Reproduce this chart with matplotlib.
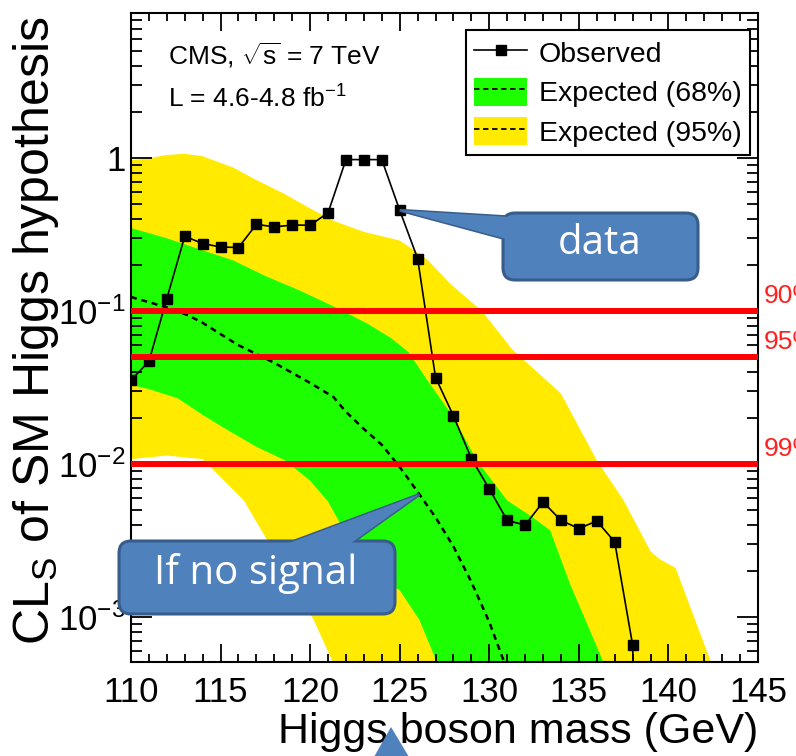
import numpy as np
import matplotlib
matplotlib.use("Agg")
import matplotlib.pyplot as plt
from matplotlib.lines import Line2D
from matplotlib.patches import Patch, FancyBboxPatch, Polygon
from matplotlib.ticker import MultipleLocator, LogLocator, FuncFormatter, NullFormatter

plt.rcParams['font.family'] = ['Liberation Sans', 'DejaVu Sans']
plt.rcParams['mathtext.fontset'] = 'custom'
plt.rcParams['mathtext.rm'] = 'Liberation Sans'
plt.rcParams['mathtext.it'] = 'Liberation Sans:italic'
plt.rcParams['mathtext.default'] = 'regular'

# observed CLs
mass_obs = [110, 111, 112, 113, 114, 115, 116, 117, 118, 119, 120, 121, 122, 123, 124,
            125, 126, 127, 128, 129, 130, 131, 132, 133, 134, 135, 136, 137, 138, 138.5]
cls_obs = [0.0354, 0.047, 0.121, 0.309, 0.277, 0.263, 0.261, 0.37, 0.356, 0.366, 0.365, 0.44,
           0.98, 0.98, 0.98, 0.457, 0.221, 0.0369, 0.0207, 0.0109, 0.0069, 0.0043, 0.0040,
           0.00567, 0.0043, 0.0038, 0.00426, 0.00311, 0.00066, 0.00001]

# expected median (no signal)
mass_exp = [110, 112, 113.2, 114, 115.7, 116, 118, 120, 121.3, 122, 123, 124, 125, 126,
            127, 128, 129, 130, 131]
cls_exp = [0.124, 0.106, 0.094, 0.084, 0.063, 0.06, 0.046, 0.034, 0.0275, 0.022, 0.017,
           0.0134, 0.0096, 0.0066, 0.0045, 0.0029, 0.0017, 0.00093, 0.00045]

# 68% band
mass_g_hi = [110, 112, 114, 115.7, 117.5, 119.4, 121.5, 123.2, 124.5, 125.5, 126.5, 128,
             129.3, 131, 132.3, 133.4, 134.5, 136.4]
cls_g_hi = [0.35, 0.30, 0.25, 0.215, 0.17, 0.137, 0.105, 0.083, 0.067, 0.054, 0.036,
            0.0203, 0.0106, 0.0058, 0.0046, 0.0037, 0.00166, 0.0005]
mass_g_lo = [110, 111, 112.6, 114, 115.4, 117, 118.6, 120, 121, 122, 123.4, 125, 126.1, 127.1]
cls_g_lo = [0.033, 0.031, 0.027, 0.021, 0.0167, 0.013, 0.0106, 0.0078, 0.0057, 0.0035,
            0.00195, 0.0015, 0.00096, 0.0005]

# 95% band
mass_y_hi = [110, 111, 112, 113, 114, 115.7, 117, 118.5, 120, 121.3, 123, 125, 126.5,
             127.8, 129.6, 131.3, 134, 136, 137.5, 139, 139.5, 140.4, 142.4]
cls_y_hi = [0.97, 1.0, 1.05, 1.07, 1.03, 0.87, 0.72, 0.59, 0.47, 0.39, 0.33, 0.29, 0.22,
            0.152, 0.10, 0.056, 0.029, 0.0106, 0.0058, 0.0027, 0.0024, 0.0021, 0.0005]
mass_y_lo = [110, 112, 114, 116.3, 117.6, 120.2, 121.3]
cls_y_lo = [0.0108, 0.0114, 0.0108, 0.0058, 0.0032, 0.00096, 0.0005]

cl_levels = [0.1, 0.05, 0.01]
cl_names = ['90%', '95%', '99%']

YELLOW = '#ffea00'
GREEN = '#1dff00'
BLUE = '#4f81bd'
BLUE_EDGE = '#385d8a'

W, H = 796, 756
fig = plt.figure(figsize=(W / 100, H / 100), dpi=100)
ax = fig.add_axes([131 / W, (H - 662) / H, (758 - 131) / W, (662 - 13) / H])
ax.set_yscale('log')
ax.set_xlim(110, 145)
ax.set_ylim(5.1e-4, 8.9)

# bands: build a common grid from the listed edges
def band(xlo, ylo, xhi, yhi, color):
    xs = np.unique(np.concatenate([xlo, xhi]))
    lo = 10 ** np.interp(xs, xlo, np.log10(ylo), right=-6)
    hi = 10 ** np.interp(xs, xhi, np.log10(yhi), right=-6)
    ax.fill_between(xs, lo, hi, color=color, lw=0, zorder=1)

band(mass_y_lo, cls_y_lo, mass_y_hi, cls_y_hi, YELLOW)
band(mass_g_lo, cls_g_lo, mass_g_hi, cls_g_hi, GREEN)

ax.plot(mass_exp, cls_exp, color='k', lw=1.8, dashes=(2.4, 1.9), zorder=3)
ax.plot(mass_obs, cls_obs, color='k', lw=1.2, marker='s', ms=7, zorder=4)

for lev, name in zip(cl_levels, cl_names):
    ax.axhline(lev, color='#ff0000', lw=4.3, zorder=6)
    ax.annotate(name, xy=(1, lev), xycoords=ax.get_yaxis_transform(),
                xytext=(4, 6), textcoords='offset points', color='#ff2020',
                fontsize=19, ha='left', va='baseline', annotation_clip=False)

# axes style (ROOT-like)
ax.xaxis.set_major_locator(MultipleLocator(5))
ax.xaxis.set_minor_locator(MultipleLocator(1))
ax.yaxis.set_major_locator(LogLocator(base=10))
ax.yaxis.set_minor_locator(LogLocator(base=10, subs=np.arange(2, 10)))
ax.yaxis.set_minor_formatter(NullFormatter())

def ylab(v, pos):
    e = int(round(np.log10(v)))
    if e == 0:
        return '1'
    return r'$10^{%d}$' % e

ax.yaxis.set_major_formatter(FuncFormatter(ylab))
ax.tick_params(which='both', direction='in', top=True, right=True, width=1.3, colors='k')
ax.tick_params(axis='x', which='major', length=13, labelsize=25, pad=10)
ax.tick_params(axis='x', which='minor', length=6)
ax.tick_params(axis='y', which='major', length=15, labelsize=25, pad=4)
ax.tick_params(axis='y', which='minor', length=8)
for s in ax.spines.values():
    s.set_linewidth(1.5)

ax.set_xlabel('Higgs boson mass (GeV)', fontsize=31, ha='right', va='center')
ax.xaxis.set_label_coords(1.0, -0.108)
ax.set_ylabel(r'CL$_{S}$ of SM Higgs hypothesis', fontsize=36, va='center')
ax.yaxis.set_label_coords(-0.152, 0.51)

ax.text(0.059, 0.920, r'CMS, $\sqrt{s}$ = 7 TeV', transform=ax.transAxes, fontsize=19,
        va='baseline')
ax.text(0.059, 0.855, r'L = 4.6-4.8 fb$^{-1}$', transform=ax.transAxes, fontsize=19,
        va='baseline')

h_obs = Line2D([], [], color='k', lw=1.2, marker='s', ms=7)
h68 = (Patch(facecolor=GREEN, edgecolor='none'), Line2D([], [], color='k', lw=1.3, dashes=(3, 2)))
h95 = (Patch(facecolor=YELLOW, edgecolor='none'), Line2D([], [], color='k', lw=1.3, dashes=(3, 2)))
leg = ax.legend([h_obs, h68, h95], ['Observed', 'Expected (68%)', 'Expected (95%)'],
                loc='upper right', bbox_to_anchor=(0.987, 0.974), fontsize=20.5,
                fancybox=False, framealpha=1, edgecolor='k', handlelength=1.85,
                handleheight=1.15, labelspacing=0.33, borderpad=0.3, handletextpad=0.4,
                borderaxespad=0)
leg.get_frame().set_linewidth(1.5)
leg.set_zorder(10)

# overlay in reference pixel coordinates for the callouts
ov = fig.add_axes([0, 0, 1, 1], zorder=20)
ov.set_xlim(0, W)
ov.set_ylim(H, 0)
ov.axis('off')
ov.patch.set_alpha(0)

def to_px(x, y):
    d = ax.transData.transform((x, y))
    return ov.transData.inverted().transform(d)

def callout(x0, y0, x1, y1, tip, b1, b2, text, tx, ty):
    pts = [tip, b1, b2]
    ov.add_patch(Polygon(pts, closed=True, fc=BLUE, ec=BLUE_EDGE, lw=2.2, zorder=1))
    ov.add_patch(FancyBboxPatch((x0, y0), x1 - x0, y1 - y0,
                                boxstyle='round,pad=0,rounding_size=12',
                                fc=BLUE, ec=BLUE_EDGE, lw=2.2, zorder=2))
    ov.add_patch(Polygon(pts, closed=True, fc=BLUE, ec='none', zorder=3))
    ov.text(tx, ty, text, color='white', fontsize=29, family='Open Sans',
            ha='center', va='center', zorder=4)

i125 = mass_obs.index(125)
tip_data = to_px(125, cls_obs[i125])
callout(503, 213, 698, 280, tip_data, (510, 217), (510, 240), 'data', 600, 244)

tip_exp = to_px(126.1, 10 ** np.interp(126.1, mass_exp, np.log10(cls_exp)))
callout(119, 541, 395, 614, tip_exp, (281, 546), (347, 546), 'If no signal', 256, 574)

# arrow pointing up from the bottom edge
ov.add_patch(Polygon([(374, 757), (391, 727), (409, 757)], closed=True, fc=BLUE, ec='none'))

fig.savefig('out.png', dpi=100)
